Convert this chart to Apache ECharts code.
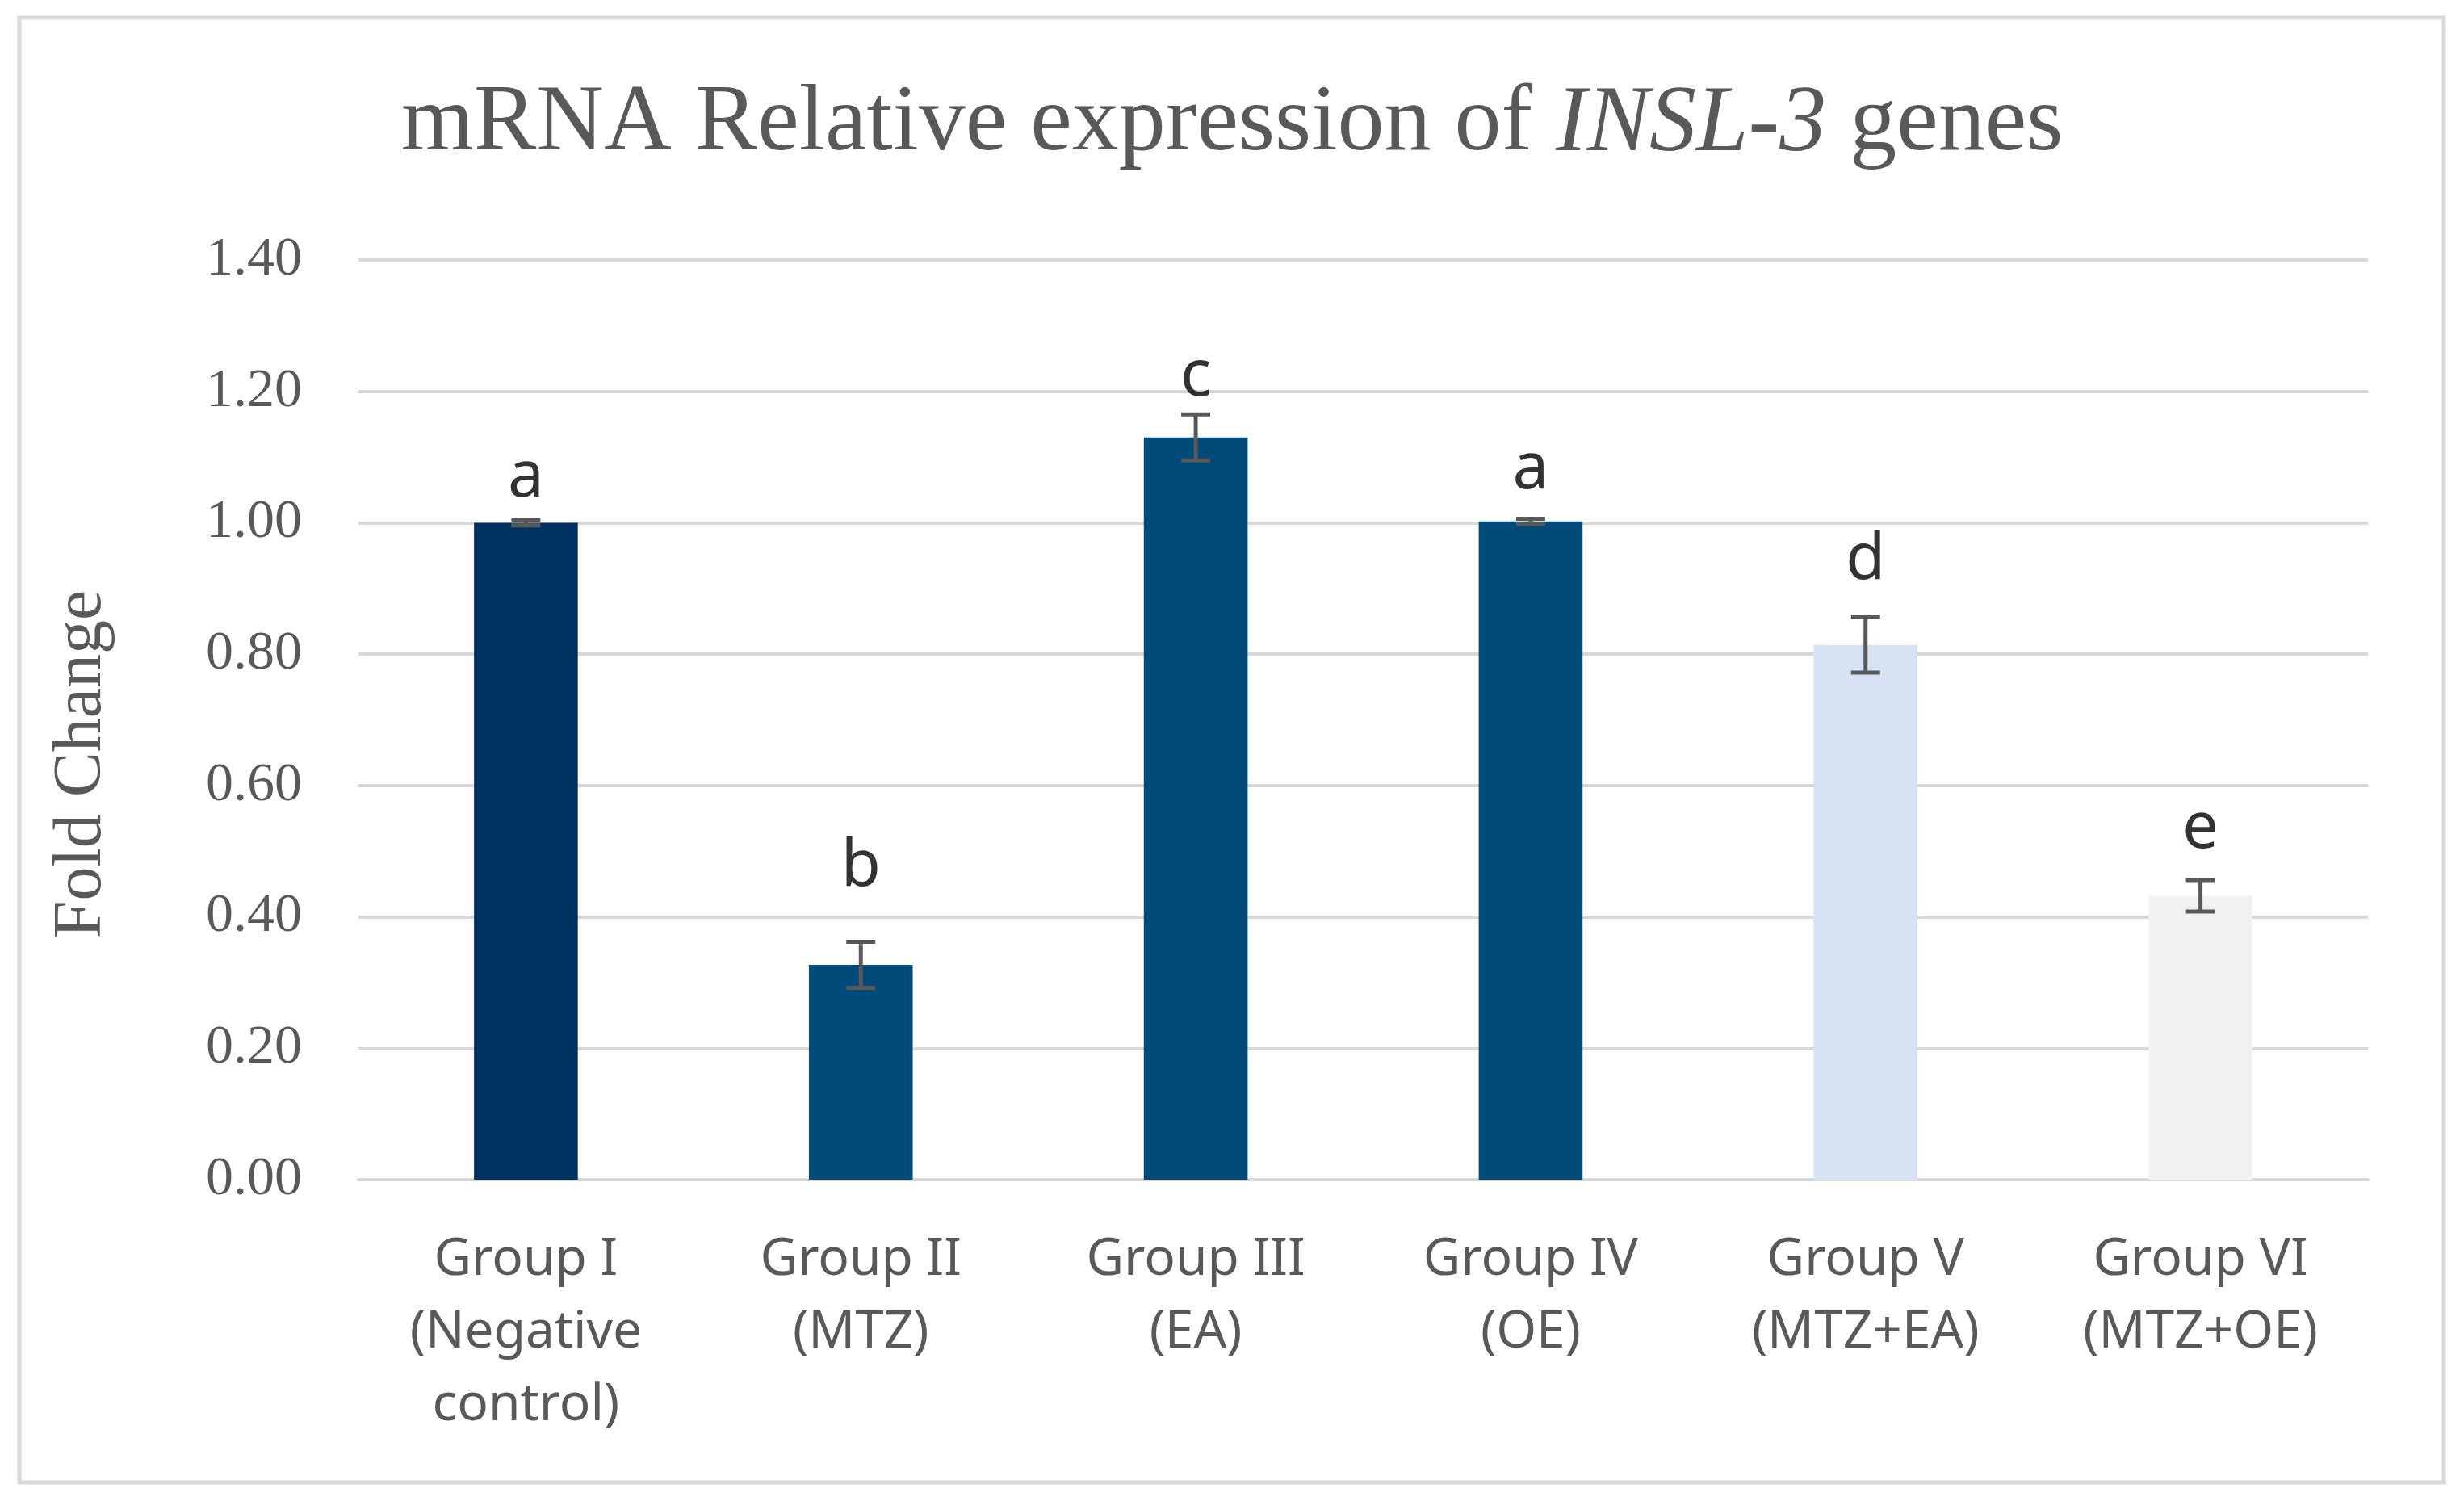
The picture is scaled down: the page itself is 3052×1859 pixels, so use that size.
<!DOCTYPE html>
<html>
<head>
<meta charset="utf-8">
<script src="https://cdn.jsdelivr.net/npm/echarts@6/dist/echarts.min.js"></script>
<style>html,body{margin:0;padding:0;background:#fff;}#c{width:3052px;height:1859px;}</style>
</head>
<body>
<div id="c"></div>
<script>
const categories = ['Group I\n(Negative\ncontrol)', 'Group II\n(MTZ)', 'Group III\n(EA)', 'Group IV\n(OE)', 'Group V\n(MTZ+EA)', 'Group VI\n(MTZ+OE)'];
const means = [1.00, 0.327, 1.130, 1.002, 0.814, 0.432];
const errors = [0.004, 0.035, 0.035, 0.004, 0.042, 0.024];
const letters = ['a', 'b', 'c', 'a', 'd', 'e'];
const letterY = [1.068, 0.476, 1.222, 1.080, 0.942, 0.533];
const barColors = ['#003361', '#004B7A', '#004B7A', '#004B7A', '#D7E3F4', '#F2F2F2'];
const yTicks = [0, 0.2, 0.4, 0.6, 0.8, 1.0, 1.2, 1.4];

const chart = echarts.init(document.getElementById('c'));
chart.setOption({
  backgroundColor: '#ffffff',
  animation: false,
  graphic: [{
    type: 'rect', z: -1,
    shape: { x: 24, y: 22, width: 3003, height: 1814 },
    style: { fill: 'none', stroke: '#d9d9d9', lineWidth: 5 }
  }],
  title: {
    text: '{n|mRNA Relative expression of }{i|INSL-3}{n| genes}',
    left: 'center',
    top: 80,
    textStyle: {
      fontWeight: 'normal',
      rich: {
        n: { fontFamily: 'Liberation Serif', fontSize: 116, fontWeight: 'normal', color: '#595959', lineHeight: 140 },
        i: { fontFamily: 'Liberation Serif', fontSize: 116, fontWeight: 'normal', color: '#595959', fontStyle: 'italic', lineHeight: 140 }
      }
    }
  },
  grid: { left: 444, right: 119, top: 322, bottom: 398, containLabel: false },
  xAxis: {
    type: 'category',
    data: categories,
    axisLine: { show: true, lineStyle: { color: '#d9d9d9', width: 4 } },
    axisTick: { show: false },
    axisLabel: {
      margin: 55, interval: 0,
      fontFamily: 'Noto Sans', fontSize: 64, lineHeight: 90, color: '#595959'
    },
    splitLine: { show: false }
  },
  yAxis: {
    type: 'value',
    min: 0, max: 1.4, interval: 0.2,
    name: 'Fold Change',
    nameLocation: 'middle',
    nameGap: 300,
    nameTextStyle: { fontFamily: 'Liberation Serif', fontSize: 84, color: '#595959', padding: [0, 110, 0, 0] },
    axisLine: { show: false },
    axisTick: { show: false },
    axisLabel: {
      margin: 70,
      fontFamily: 'Liberation Serif', fontSize: 68, color: '#595959',
      formatter: v => v.toFixed(2)
    },
    splitLine: { lineStyle: { color: '#d9d9d9', width: 4 } }
  },
  series: [
    {
      type: 'bar',
      barWidth: '31%',
      data: means.map((v, i) => ({ value: v, itemStyle: { color: barColors[i] } })),
      z: 2
    },
    {
      type: 'custom',
      z: 5,
      data: means.map((v, i) => [i, v - errors[i], v + errors[i]]),
      renderItem: function (params, api) {
        const lo = api.coord([api.value(0), api.value(1)]);
        const hi = api.coord([api.value(0), api.value(2)]);
        const hw = 18;
        const st = { stroke: '#595959', lineWidth: 5 };
        return {
          type: 'group',
          children: [
            { type: 'line', shape: { x1: lo[0], y1: lo[1], x2: hi[0], y2: hi[1] }, style: st },
            { type: 'line', shape: { x1: lo[0] - hw, y1: lo[1], x2: lo[0] + hw, y2: lo[1] }, style: st },
            { type: 'line', shape: { x1: hi[0] - hw, y1: hi[1], x2: hi[0] + hw, y2: hi[1] }, style: st }
          ]
        };
      }
    },
    {
      type: 'scatter',
      symbolSize: 0,
      z: 6,
      data: letterY.map((v, i) => [i, v]),
      label: {
        show: true,
        position: 'inside',
        formatter: p => letters[p.dataIndex],
        fontFamily: 'Noto Sans', fontSize: 80, color: '#000000'
      }
    }
  ]
});
</script>
</body>
</html>
